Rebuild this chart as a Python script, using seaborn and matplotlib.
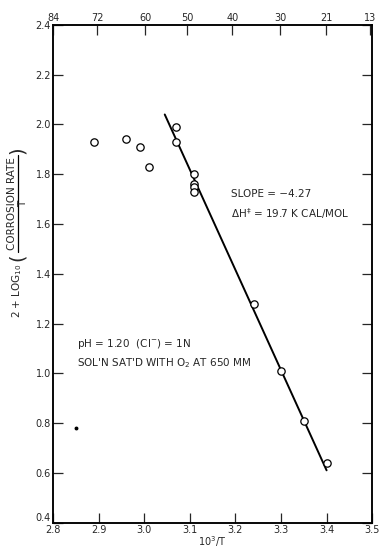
import matplotlib
matplotlib.use("Agg")
import matplotlib.pyplot as plt
from matplotlib.lines import Line2D
import seaborn as sns
import numpy as np
import pandas as pd

# data
inv_T = [2.89, 2.96, 2.99, 3.01, 3.07, 3.07, 3.11, 3.11, 3.11, 3.11, 3.24, 3.30, 3.35, 3.40]
log_rate = [1.93, 1.94, 1.91, 1.83, 1.99, 1.93, 1.80, 1.76, 1.75, 1.73, 1.28, 1.01, 0.81, 0.64]
fit_x = [3.045, 3.40]
fit_y = [2.04, 0.61]
stray_x = [2.85]
stray_y = [0.78]
x_ticks = [2.8, 2.9, 3.0, 3.1, 3.2, 3.3, 3.4, 3.5]
y_ticks = [0.4, 0.6, 0.8, 1.0, 1.2, 1.4, 1.6, 1.8, 2.0, 2.2, 2.4]
top_ticks_C = [84, 72, 60, 50, 40, 30, 21, 13]

sns.set_style("ticks")
plt.rcParams['font.family'] = ['DejaVu Sans']

W, H = 379, 553
fig = plt.figure(figsize=(W / 100, H / 100), dpi=100)
ax = fig.add_axes([0.14, 0.055, 0.842, 0.9])

df = pd.DataFrame({"x": inv_T, "y": log_rate})
sns.scatterplot(data=df, x="x", y="y", ax=ax, marker="o", s=28,
                facecolors="white", edgecolor="black", linewidth=0.9, zorder=3)
sns.lineplot(x=fit_x, y=fit_y, ax=ax, color="black", linewidth=1.4, zorder=2)
ax.plot(stray_x, stray_y, marker="o", ms=1.8, color="black", ls="none")

ax.set_xlim(2.8, 3.5)
ax.set_ylim(0.4, 2.4)
ax.set_xticks(x_ticks)
ax.set_xticklabels([f"{v:.1f}" for v in x_ticks], fontsize=7)
ax.set_yticks(y_ticks)
ax.set_yticklabels([f"{v:.1f}" for v in y_ticks], fontsize=7)
ax.get_yticklabels()[0].set_va("bottom")
ax.tick_params(direction="in", length=7, width=0.9, right=True, pad=1.5)
for s in ax.spines.values():
    s.set_linewidth(1.1)
    s.set_color("black")

ax.set_xlabel(r"$10^3$/T", fontsize=7, labelpad=0)
ax.set_ylabel("")

# y-axis label built as a stacked fraction (pixel positions, y from top)
def fx(px):
    return px / W

def fy(py):
    return 1 - py / H

fig.text(fx(17), fy(291), r"2 + LOG$_{10}$", rotation=90, ha="center", va="center", fontsize=7.5)
fig.text(fx(17), fy(257), "(", rotation=90, ha="center", va="center", fontsize=14)
fig.text(fx(12), fy(204), "CORROSION RATE", rotation=90, ha="center", va="center", fontsize=7.5)
fig.add_artist(Line2D([fx(17.5), fx(17.5)], [fy(155), fy(252)], color="black", linewidth=0.9,
                      transform=fig.transFigure))
fig.text(fx(23), fy(204), "T", rotation=90, ha="center", va="center", fontsize=7.5)
fig.text(fx(17), fy(150), ")", rotation=90, ha="center", va="center", fontsize=14)

top = ax.twiny()
top.set_xlim(ax.get_xlim())
top.set_xticks([1000.0 / (c + 273.15) for c in top_ticks_C])
top.set_xticklabels([str(v) for v in top_ticks_C], fontsize=7)
top.tick_params(direction="in", length=7, width=0.9, pad=1.5)
for s in top.spines.values():
    s.set_linewidth(1.1)
    s.set_color("black")

ax.text(3.19, 1.71, "SLOPE = \u22124.27", fontsize=7.5)
ax.text(3.19, 1.625, "\u0394H$^{\u2021}$ = 19.7 K CAL/MOL", fontsize=7.5)
ax.text(2.853, 1.105, "pH = 1.20  (Cl$^{-}$) = 1N", fontsize=7.5)
ax.text(2.853, 1.03, "SOL'N SAT'D WITH O$_2$ AT 650 MM", fontsize=7.5)

fig.savefig("out.png", dpi=100)
